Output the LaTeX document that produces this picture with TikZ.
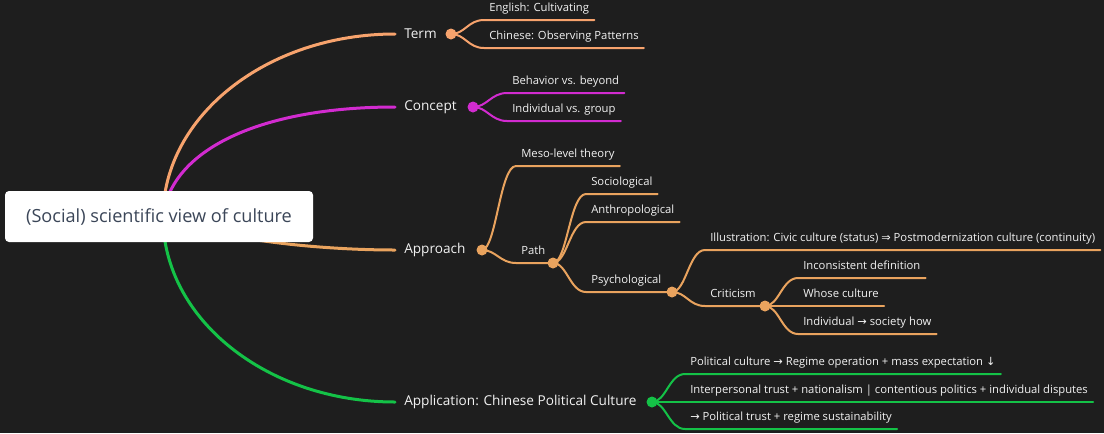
\documentclass[tikz,border=0pt]{standalone}
\usepackage{fontspec}
\setmainfont{Open Sans}
\newfontfamily\symfont{DejaVu Sans}
\newcommand{\sym}[1]{{\symfont #1}}
\definecolor{bgc}{HTML}{1E1E1E}
\definecolor{fgc}{HTML}{F2F2F2}
\definecolor{roottext}{HTML}{3B4658}
\definecolor{termc}{HTML}{F7A36D}
\definecolor{conceptc}{HTML}{D22BD0}
\definecolor{approachc}{HTML}{E9A35E}
\definecolor{appc}{HTML}{14C247}
\begin{document}
\begin{tikzpicture}[x=0.75pt,y=-0.75pt,line cap=round,
    main/.style={line width=2.25pt},
    sub/.style={line width=1.5pt},
    lvl/.style={anchor=west,text=fgc,inner sep=0pt,font=\fontsize{10.2}{12}\selectfont},
    leaf/.style={anchor=south west,text=fgc,inner xsep=3.75pt,inner ysep=0pt,
        text height=6.75pt,text depth=6pt,font=\fontsize{8.45}{10}\selectfont},
    dot/.style={circle,fill=#1,inner sep=0pt,minimum size=8.25pt}]
    \fill[bgc] (0,0) rectangle (1104,433);
    \useasboundingbox (0,0) rectangle (1104,433);
    \coordinate (rootpt) at (163,217);
    % first level
    \coordinate (termin) at (395,34);
    \coordinate (conceptin) at (395,107);
    \coordinate (approachin) at (395,250);
    \coordinate (appin) at (395,402);
    \draw[main,termc] (rootpt) .. controls (163,116) and (267,34) .. (termin);
    \draw[main,conceptc] (rootpt) .. controls (170,150) and (260,107) .. (conceptin);
    \draw[main,approachc] (rootpt) .. controls (220,240) and (320,250) .. (approachin);
    \draw[main,appc] (rootpt) .. controls (163,319) and (267,402) .. (appin);
    \node[fill=white,rounded corners=3pt,minimum width=231pt,minimum height=38.25pt,
        text=roottext,font=\fontsize{13.6}{16}\selectfont] (root) at (159,216.5) {(Social) scientific view of culture};
    % Term
    \node[lvl] (term) at (404,34) {Term};
    \node[dot=termc] (termdot) at (451,34) {};
    \node[leaf] (eng) at (484,20) {English: Cultivating};
    \node[leaf] (chn) at (484,48) {Chinese: Observing Patterns};
    \draw[sub,termc] (termdot.center) .. controls +(14,0) and +(-16,0) .. (eng.south west) -- (eng.south east);
    \draw[sub,termc] (termdot.center) .. controls +(14,0) and +(-16,0) .. (chn.south west) -- (chn.south east);
    % Concept
    \node[lvl] (concept) at (404,107) {Concept};
    \node[dot=conceptc] (conceptdot) at (473,107) {};
    \node[leaf] (behav) at (507,93) {Behavior vs. beyond};
    \node[leaf] (indgrp) at (507,121) {Individual vs. group};
    \draw[sub,conceptc] (conceptdot.center) .. controls +(14,0) and +(-16,0) .. (behav.south west) -- (behav.south east);
    \draw[sub,conceptc] (conceptdot.center) .. controls +(14,0) and +(-16,0) .. (indgrp.south west) -- (indgrp.south east);
    % Approach
    \node[lvl] (approach) at (404,250) {Approach};
    \node[dot=approachc] (approachdot) at (482,250) {};
    \node[leaf] (meso) at (516,166) {Meso-level theory};
    \node[leaf] (path) at (516,263) {Path};
    \node[dot=approachc] (pathdot) at (553,263) {};
    \draw[sub,approachc] (approachdot.center) .. controls +(14,0) and +(-16,0) .. (meso.south west) -- (meso.south east);
    \draw[sub,approachc] (approachdot.center) .. controls +(14,0) and +(-16,0) .. (path.south west) -- (pathdot.center);
    \node[leaf] (socio) at (586,194) {Sociological};
    \node[leaf] (anthro) at (586,222) {Anthropological};
    \node[leaf] (psych) at (586,292) {Psychological};
    \node[dot=approachc] (psychdot) at (672,292) {};
    \draw[sub,approachc] (pathdot.center) .. controls +(14,0) and +(-16,0) .. (socio.south west) -- (socio.south east);
    \draw[sub,approachc] (pathdot.center) .. controls +(14,0) and +(-16,0) .. (anthro.south west) -- (anthro.south east);
    \draw[sub,approachc] (pathdot.center) .. controls +(14,0) and +(-16,0) .. (psych.south west) -- (psychdot.center);
    \node[leaf] (illus) at (705,250) {Illustration: Civic culture (status) \sym{⇒} Postmodernization culture (continuity)};
    \node[leaf] (crit) at (705,306) {Criticism};
    \node[dot=approachc] (critdot) at (765,306) {};
    \draw[sub,approachc] (psychdot.center) .. controls +(14,0) and +(-16,0) .. (illus.south west) -- (illus.south east);
    \draw[sub,approachc] (psychdot.center) .. controls +(14,0) and +(-16,0) .. (crit.south west) -- (critdot.center);
    \node[leaf] (incons) at (798,278) {Inconsistent definition};
    \node[leaf] (whose) at (798,306) {Whose culture};
    \node[leaf] (indsoc) at (798,334) {Individual \sym{→} society how};
    \draw[sub,approachc] (critdot.center) .. controls +(14,0) and +(-16,0) .. (incons.south west) -- (incons.south east);
    \draw[sub,approachc] (critdot.center) -- (whose.south west) -- (whose.south east);
    \draw[sub,approachc] (critdot.center) .. controls +(14,0) and +(-16,0) .. (indsoc.south west) -- (indsoc.south east);
    % Application
    \node[lvl] (app) at (404,402) {Application: Chinese Political Culture};
    \node[dot=appc] (appdot) at (652,402) {};
    \node[leaf] (polcul) at (685,374) {Political culture \sym{→} Regime operation + mass expectation \sym{↓}};
    \node[leaf] (trust) at (685,402) {Interpersonal trust + nationalism | contentious politics + individual disputes};
    \node[leaf] (sustain) at (685,429) {\sym{→} Political trust + regime sustainability};
    \draw[sub,appc] (appdot.center) .. controls +(14,0) and +(-16,0) .. (polcul.south west) -- (polcul.south east);
    \draw[sub,appc] (appdot.center) -- (trust.south west) -- (trust.south east);
    \draw[sub,appc] (appdot.center) .. controls +(14,0) and +(-16,0) .. (sustain.south west) -- (sustain.south east);
\end{tikzpicture}
\end{document}
